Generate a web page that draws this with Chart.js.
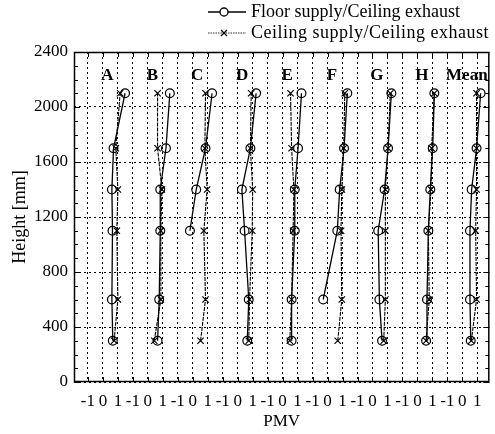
<!DOCTYPE html>
<html><head><meta charset="utf-8">
<script src="https://cdn.jsdelivr.net/npm/chart.js@4.4.0/dist/chart.umd.min.js"></script>
<style>
html,body{margin:0;padding:0;background:#fff;}
#wrap{position:relative;width:495px;height:434px;overflow:hidden;}
canvas{position:absolute;left:0;top:0;}
#legend{position:absolute;left:207px;top:1px;font-family:"Liberation Serif","Times New Roman",serif;font-size:18px;color:#000;line-height:21px;}
.row{display:flex;align-items:center;white-space:nowrap;}
.row svg{margin-right:4px;}
.row2{letter-spacing:0.5px;}
</style></head>
<body><div id="wrap"><canvas id="c" width="495" height="434"></canvas>
<div id="legend">
<div class="row"><svg width="40" height="12"><line x1="1" y1="6" x2="39" y2="6" stroke="#000" stroke-width="1.3"/><circle cx="17" cy="6" r="4" fill="#fff" stroke="#000" stroke-width="1.3"/></svg>Floor supply/Ceiling exhaust</div>
<div class="row row2"><svg width="40" height="12"><line x1="1" y1="6" x2="39" y2="6" stroke="#333" stroke-width="1" stroke-dasharray="1.5,1"/><line x1="14" y1="3" x2="20" y2="9" stroke="#000" stroke-width="1.2"/><line x1="20" y1="3" x2="14" y2="9" stroke="#000" stroke-width="1.2"/></svg>Ceiling supply/Ceiling exhaust</div>
</div></div>
<script>
// ---- data ----
const groups = ['A','B','C','D','E','F','G','H','Mean'];
const heights = [300, 600, 1100, 1400, 1700, 2100];
const pmvTicks = [-1, 0, 1];
const yTicks = [0, 400, 800, 1200, 1600, 2000, 2400];
// PMV per group, in the order of `heights`
const floorPMV = [
  [0.66, 0.60, 0.64, 0.60, 0.71, 1.48],   // A
  [0.65, 0.76, 0.83, 0.83, 1.21, 1.47],   // B
  [null, null, -0.19, 0.23, 0.85, 1.29],  // C
  [0.64, 0.74, 0.46, 0.28, 0.85, 1.23],   // D
  [0.60, 0.60, 0.81, 0.81, 1.03, 1.26],   // E
  [null, -0.29, 0.65, 0.81, 1.10, 1.32],  // F
  [0.64, 0.46, 0.38, 0.81, 1.04, 1.26],   // G
  [0.58, 0.64, 0.73, 0.86, 1.02, 1.13],   // H
  [0.56, 0.51, 0.51, 0.62, 0.95, 1.22]    // Mean
];
const ceilingPMV = [
  [0.75, 1.00, 0.93, 1.00, 0.86, 1.15],   // A
  [0.43, 0.87, 0.87, 0.94, 0.65, 0.65],   // B
  [0.52, 0.85, 0.74, 0.96, 0.81, 0.85],   // C
  [0.74, 0.79, 0.97, 1.00, 0.85, 0.90],   // D
  [0.48, 0.60, 0.70, 0.75, 0.60, 0.53],   // E
  [0.68, 0.95, 0.90, 0.95, 1.08, 1.15],   // F
  [0.75, 0.86, 0.86, 0.86, 1.04, 1.19],   // G
  [0.58, 0.79, 0.73, 0.91, 0.95, 1.13],   // H
  [0.60, 0.95, 0.89, 0.95, 0.95, 0.95]    // Mean
];

// ---- build ----
const SPAN = pmvTicks.length;
const xTickValues = [];
const xTickLabels = [];
groups.forEach((g, gi) => pmvTicks.forEach(p => { xTickValues.push(gi * SPAN + p); xTickLabels.push(String(p)); }));

function pts(arr, gi) {
  const out = [];
  heights.forEach((h, i) => { if (arr[i] !== null) out.push({x: gi * SPAN + arr[i], y: h}); });
  return out;
}
const datasets = [];
groups.forEach((g, gi) => {
  datasets.push({
    label: 'Ceiling supply/Ceiling exhaust', data: pts(ceilingPMV[gi], gi),
    borderColor: '#000', borderWidth: 1.1, borderDash: [4, 1],
    pointStyle: 'crossRot', pointRadius: 4.5, pointBorderColor: '#000', pointBorderWidth: 1.2,
    pointBackgroundColor: '#000', tension: 0, fill: false
  });
});
groups.forEach((g, gi) => {
  datasets.push({
    label: 'Floor supply/Ceiling exhaust', data: pts(floorPMV[gi], gi),
    borderColor: '#000', borderWidth: 1.3,
    pointStyle: 'circle', pointRadius: 4.4, pointBorderColor: '#000', pointBorderWidth: 1.2,
    pointBackgroundColor: 'rgba(255,255,255,0)', tension: 0, fill: false
  });
});

const FONT = '"Liberation Serif","Times New Roman",serif';
const decor = {
  id: 'decor',
  afterDraw(chart) {
    const {ctx, chartArea: a, scales: {x, y}} = chart;
    ctx.save();
    ctx.strokeStyle = '#000';
    ctx.lineWidth = 1;
    ctx.beginPath();
    for (let v = 0; v <= 2400; v += 100) {
      const py = Math.round(y.getPixelForValue(v)) + 0.5;
      const len = v % 400 === 0 ? 6 : 4;
      ctx.moveTo(a.left, py); ctx.lineTo(a.left + len, py);
      ctx.moveTo(a.right - len, py); ctx.lineTo(a.right, py);
    }
    xTickValues.forEach(v => {
      const px = Math.round(x.getPixelForValue(v)) + 0.5;
      ctx.moveTo(px, a.bottom); ctx.lineTo(px, a.bottom - 5);
      ctx.moveTo(px, a.top); ctx.lineTo(px, a.top + 5);
    });
    ctx.stroke();
    ctx.lineWidth = 1.5;
    ctx.strokeRect(a.left + 0.5, a.top + 0.5, a.right - a.left - 1, a.bottom - a.top - 1);
    ctx.fillStyle = '#000';
    ctx.font = 'bold 17px ' + FONT;
    ctx.textAlign = 'center';
    ctx.textBaseline = 'middle';
    groups.forEach((g, gi) => ctx.fillText(g, x.getPixelForValue(gi * SPAN + 0.3), y.getPixelForValue(2225)));
    ctx.restore();
  }
};

new Chart(document.getElementById('c'), {
  type: 'line',
  data: {datasets},
  plugins: [decor],
  options: {
    responsive: false, animation: false,
    layout: {padding: {top: 52, right: 2, left: 0, bottom: 0}},
    plugins: {legend: {display: false}, tooltip: {enabled: false}},
    scales: {
      x: {
        type: 'linear', min: -1.93, max: 25.8,
        afterBuildTicks: s => { s.ticks = xTickValues.map(v => ({value: v})); },
        afterFit: s => { s.height = 52; },
        grid: {color: '#000', lineWidth: 1, drawTicks: false},
        border: {display: false, dash: [2, 3]},
        ticks: {
          autoSkip: false, maxRotation: 0, padding: 9, color: '#000',
          font: {family: FONT, size: 17},
          callback: (v) => { const i = xTickValues.indexOf(v); return i >= 0 ? xTickLabels[i] : ''; }
        },
        title: {display: true, text: 'PMV', color: '#000', font: {family: FONT, size: 17}, padding: {top: 0, bottom: 2}}
      },
      y: {
        type: 'linear', min: 0, max: 2400,
        afterBuildTicks: s => { s.ticks = yTicks.map(v => ({value: v})); },
        afterFit: s => { s.width = 74; },
        grid: {color: '#000', lineWidth: 1, drawTicks: false},
        border: {display: false, dash: [2, 3]},
        ticks: {padding: 6, color: '#000', font: {family: FONT, size: 17}, callback: v => String(v)},
        title: {display: true, text: 'Height [mm]', color: '#000', font: {family: FONT, size: 18}, padding: {top: 9, bottom: 0}}
      }
    }
  }
});
</script>
</body></html>
